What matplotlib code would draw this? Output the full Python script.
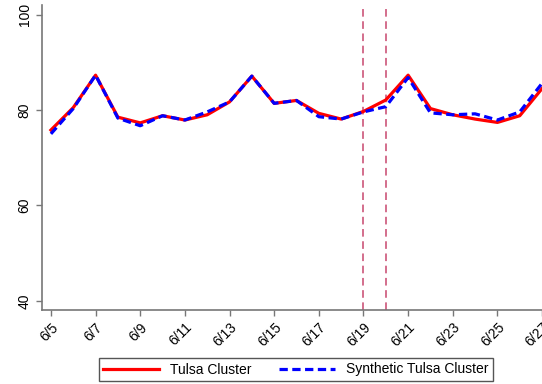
import matplotlib.pyplot as plt

plt.rcParams['font.family'] = ['Liberation Sans', 'DejaVu Sans']

# day of June
days = list(range(5, 28))
tulsa = [75.8, 80.5, 87.3, 78.5, 77.3, 78.8, 77.9, 79.0, 81.7, 87.1, 81.4, 82.0,
         79.3, 78.1, 79.7, 82.1, 87.3, 80.3, 79.0, 78.1, 77.4, 78.8, 84.5]
synthetic = [75.0, 80.3, 87.3, 78.3, 76.7, 78.8, 77.9, 79.6, 81.7, 87.1, 81.4, 82.0,
             78.6, 78.1, 79.6, 80.7, 86.8, 79.4, 79.0, 79.2, 77.9, 79.6, 85.6]
event_days = [19, 20]
tick_days = list(range(5, 28, 2))
tick_labels = [f"6/{d}" for d in tick_days]

fig = plt.figure(figsize=(5.42, 3.84), dpi=100)
ax = fig.add_axes([42 / 542, 74 / 384, 509 / 542, 305 / 384])

ax.plot(days, tulsa, color='red', lw=2.3, label="Tulsa Cluster", zorder=3)
ax.plot(days, synthetic, color='blue', lw=2.3, dashes=(2.6, 1.4),
        label="Synthetic Tulsa Cluster", zorder=4)
for d in event_days:
    ax.axvline(d, color='#c8476e', lw=1.1, dashes=(5, 3), zorder=2)

ax.set_xlim(4.6, 27.4)
ax.set_ylim(38.1, 102)
ax.set_yticks([40, 60, 80, 100])
ax.set_yticklabels(['40', '60', '80', '100'], rotation=90, va='center', fontsize=10)
ax.set_xticks(tick_days)
ax.set_xticklabels(tick_labels, rotation=45, ha='right', rotation_mode='anchor', fontsize=10)

for s in ['top', 'right']:
    ax.spines[s].set_visible(False)
for s in ['left', 'bottom']:
    ax.spines[s].set_color('#777777')
    ax.spines[s].set_linewidth(1.2)
ax.tick_params(colors='#777777', length=4, width=1, labelcolor='black')

leg = fig.legend(loc='center', bbox_to_anchor=(296 / 542, 14.5 / 384), ncol=2,
                 fontsize=10, handlelength=4, fancybox=False, edgecolor='#555555',
                 columnspacing=2.0, borderpad=0.3, framealpha=1)
leg.get_frame().set_linewidth(1.0)

fig.savefig("out.png", dpi=100)
